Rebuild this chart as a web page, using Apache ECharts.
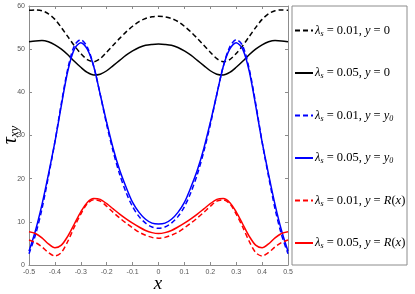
<!DOCTYPE html>
<html><head><meta charset="utf-8">
<script src="https://cdn.jsdelivr.net/npm/echarts@6/dist/echarts.min.js"></script>
<style>html,body{margin:0;padding:0;background:#fff}#c{width:415px;height:294px}</style>
</head><body><div id="c"></div>
<script>
var xs = [-0.5,-0.475,-0.45,-0.425,-0.4,-0.375,-0.35,-0.325,-0.3,-0.275,-0.25,-0.225,-0.2,-0.175,-0.15,-0.125,-0.1,-0.075,-0.05,-0.025,0,
  0.025,0.05,0.075,0.1,0.125,0.15,0.175,0.2,0.225,0.25,0.275,0.3,0.325,0.35,0.375,0.4,0.425,0.45,0.475,0.5];
var blackDashed = [59.0,59.1,58.9,58.2,56.9,55.0,52.9,50.8,49.0,47.6,47.1,47.8,49.3,50.9,52.5,54.0,55.3,56.4,57.1,57.5,57.6,
  57.5,57.1,56.4,55.3,54.0,52.5,50.9,49.3,47.8,47.1,47.6,49.0,50.8,52.9,55.0,56.9,58.2,58.9,59.1,59.0];
var blackSolid = [51.7,51.9,52.0,51.7,51.0,50.0,48.7,47.2,45.8,44.6,44.0,44.2,45.0,46.2,47.4,48.6,49.6,50.4,50.9,51.1,51.2,
  51.1,50.9,50.4,49.6,48.6,47.4,46.2,45.0,44.2,44.0,44.6,45.8,47.2,48.7,50.0,51.0,51.7,52.0,51.9,51.7];
var blueDashed = [2.6,7.0,13.0,20.5,28.5,37.5,45.5,50.8,52.2,50.5,46.0,39.5,32.5,26.3,21.0,16.8,13.5,11.2,9.7,8.8,8.5,
  8.8,9.7,11.2,13.5,16.8,21.0,26.3,32.5,39.5,46.0,50.5,52.2,50.8,45.5,37.5,28.5,20.5,13.0,7.0,2.6];
var blueSolid = [3.2,8.0,14.0,21.0,28.5,37.0,45.0,50.0,51.5,50.0,46.0,39.5,33.0,27.0,22.0,18.0,14.5,12.2,10.6,9.7,9.5,
  9.7,10.6,12.2,14.5,18.0,22.0,27.0,33.0,39.5,46.0,50.0,51.5,50.0,45.0,37.0,28.5,21.0,14.0,8.0,3.2];
var redDashed = [5.8,5.2,4.2,2.9,2.1,2.9,5.5,8.8,11.8,14.2,15.1,14.8,13.6,12.2,10.9,9.7,8.6,7.6,6.9,6.4,6.2,
  6.4,6.9,7.6,8.6,9.7,10.9,12.2,13.6,14.8,15.1,14.2,11.8,8.8,5.5,2.9,2.1,2.9,4.2,5.2,5.8];
var redSolid = [7.7,7.3,6.3,4.9,4.0,4.6,6.7,9.5,12.3,14.5,15.4,15.2,14.2,13.0,11.8,10.7,9.7,8.8,8.0,7.5,7.3,
  7.5,8.0,8.8,9.7,10.7,11.8,13.0,14.2,15.2,15.4,14.5,12.3,9.5,6.7,4.6,4.0,4.9,6.3,7.3,7.7];
var xTicks = [-0.5,-0.4,-0.3,-0.2,-0.1,0,0.1,0.2,0.3,0.4,0.5];
var yTicks = [0,10,20,30,40,50,60];

var names = ['n1','n2','n3','n4','n5','n6'];
var labels = {
  n1: '{i|λ}{s|s}{t| = 0.01, }{i|y}{t| = 0}',
  n2: '{i|λ}{s|s}{t| = 0.05, }{i|y}{t| = 0}',
  n3: '{i|λ}{s|s}{t| = 0.01, }{i|y}{t| = }{i|y}{s|0}',
  n4: '{i|λ}{s|s}{t| = 0.05, }{i|y}{t| = }{i|y}{s|0}',
  n5: '{i|λ}{s|s}{t| = 0.01, }{i|y}{t| = }{i|R}{t|(}{i|x}{t|)}',
  n6: '{i|λ}{s|s}{t| = 0.05, }{i|y}{t| = }{i|R}{t|(}{i|x}{t|)}'
};
function pairs(v){ return xs.map(function(x,i){return [x,v[i]];}); }
var defs = [
  [names[0], blackDashed, '#000', 'dashed'],
  [names[1], blackSolid, '#000', 'solid'],
  [names[2], blueDashed, '#0000ff', 'dashed'],
  [names[3], blueSolid, '#0000ff', 'solid'],
  [names[4], redDashed, '#ff0000', 'dashed'],
  [names[5], redSolid, '#ff0000', 'solid']
];
var serif = '"Liberation Serif", "DejaVu Serif", serif';
var axColor = '#8c8c8c';
var lblColor = '#555';
function axisBase(){
  return {
    axisLine:{show:true,onZero:false,lineStyle:{color:axColor,width:1}},
    axisTick:{show:true,inside:true,length:3,lineStyle:{color:axColor,width:1}},
    splitLine:{show:false}
  };
}
var chart = echarts.init(document.getElementById('c'), null, {renderer:'canvas'});
var opt = {
  animation:false,
  grid:{left:29,right:127,top:6,bottom:29,containLabel:false,outerBoundsMode:'none'},
  xAxis:[
    Object.assign(axisBase(),{type:'value',min:-0.5,max:0.5,interval:0.1,position:'bottom',
      axisLabel:{fontSize:7,color:lblColor,margin:4,fontFamily:'"Liberation Sans", Arial, sans-serif',
        formatter:function(v){var r=Math.round(v*10)/10; return r===0?'0':r.toFixed(1);}}}),
    Object.assign(axisBase(),{type:'value',min:-0.5,max:0.5,interval:0.1,position:'top',axisLabel:{show:false}})
  ],
  yAxis:[
    Object.assign(axisBase(),{type:'value',min:0,max:60,interval:10,position:'left',
      axisLabel:{fontSize:7,color:lblColor,margin:4,fontFamily:'"Liberation Sans", Arial, sans-serif'}}),
    Object.assign(axisBase(),{type:'value',min:0,max:60,interval:10,position:'right',axisLabel:{show:false}})
  ],
  legend:{
    orient:'vertical',left:294,top:6,padding:[18,0,19,0],itemGap:29,itemWidth:18,itemHeight:10,
    data:names,
    itemStyle:{opacity:0},
    formatter:function(n){return labels[n];},
    textStyle:{fontFamily:serif,fontSize:12.5,color:'#000',padding:[0,0,0,-3],
      rich:{
        t:{fontFamily:serif,fontSize:12.5,color:'#000'},
        i:{fontFamily:serif,fontSize:12.5,fontStyle:'italic',color:'#000'},
        s:{fontFamily:serif,fontSize:8,fontStyle:'italic',color:'#000',padding:[6,0,0,0]}
      }}
  },
  graphic:[
    {type:'rect',shape:{x:292,y:6,width:115,height:259},
      style:{fill:'none',stroke:axColor,lineWidth:1},silent:true},
    {type:'text',x:11,y:135,rotation:Math.PI/2,silent:true,
      style:{text:'{t|τ}{s|xy}',align:'center',verticalAlign:'middle',
        rich:{
          t:{fontFamily:serif,fontStyle:'italic',fontSize:20,fill:'#000'},
          s:{fontFamily:serif,fontStyle:'italic',fontSize:13,fill:'#000',padding:[8,0,0,0]}
        }}},
    {type:'text',x:158,y:284,silent:true,
      style:{text:'x',align:'center',verticalAlign:'middle',
        font:'italic 19px "Liberation Serif", "DejaVu Serif", serif',fill:'#000'}}
  ],
  series: defs.map(function(d){
    return {name:d[0],type:'line',data:pairs(d[1]),smooth:0.3,symbol:'none',showSymbol:false,
      lineStyle:{color:d[2],width:1.5,type:d[3]==='dashed'?[5,3]:'solid'},
      itemStyle:{color:d[2]}};
  })
};
chart.setOption(opt);
</script></body></html>
